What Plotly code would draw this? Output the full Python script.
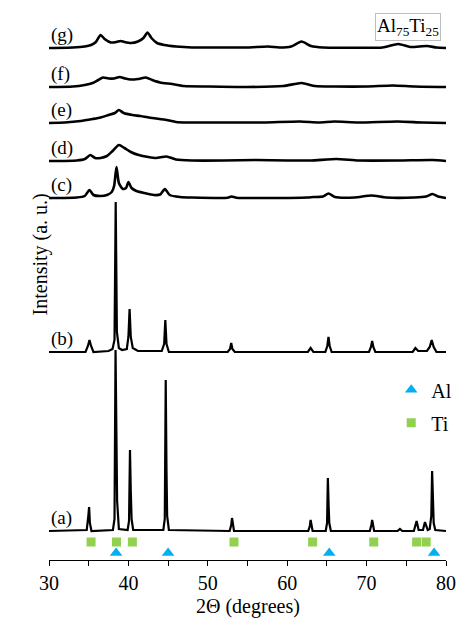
import plotly.graph_objects as go

# ---------------- data ----------------
two_theta_range = [30, 80]

# pattern (a)
a_x = [30, 34.75, 34.95, 35.05, 35.15, 35.35, 38.05, 38.25, 38.38, 38.48, 38.58, 38.8,
       39.9, 40.08, 40.2, 40.3, 40.4, 40.6, 44.4, 44.58, 44.7, 44.8, 44.88, 45.1,
       52.75, 52.95, 53.05, 53.3, 62.65, 62.85, 62.95, 63.2, 64.85, 65.02, 65.12, 65.22,
       65.3, 65.5, 70.4, 70.6, 70.7, 70.95, 73.9, 74.2, 74.5, 75.95, 76.2, 76.3, 76.55,
       77.1, 77.35, 77.45, 77.7, 77.95, 78.15, 78.25, 78.35, 78.45, 78.65, 80]
a_y = [0, 1, 15, 24, 8, 0, 1, 12, 181, 120, 30, 2,
       1, 10, 81, 40, 12, 1, 1, 12, 151, 60, 15, 1,
       0, 6, 13, 0, 0, 5, 11, 0, 0, 8, 53, 25,
       8, 0, 0, 6, 11, 0, 0, 2, 0, 0, 8, 10, 1,
       1, 9, 7, 1, 2, 15, 60, 30, 8, 1, 0]

# pattern (b)
b_x = [30, 34.6, 34.9, 35.1, 35.3, 35.6, 37.5, 38.0, 38.25, 38.4, 38.55, 38.8, 39.2,
       39.8, 40.0, 40.15, 40.3, 40.55, 41.2, 44.2, 44.5, 44.65, 44.8, 45.1, 52.5, 52.8,
       52.95, 53.1, 53.4, 62.6, 62.95, 63.3, 64.8, 65.05, 65.2, 65.35, 65.6, 70.3, 70.55,
       70.7, 70.85, 71.1, 75.8, 76.15, 76.5, 77.6, 77.95, 78.2, 78.45, 78.8, 80]
b_y = [0, 0, 6, 12, 6, 0, 1, 3, 12, 150, 20, 4, 2,
       3, 15, 43, 15, 4, 1, 1, 8, 32, 8, 0, 0, 3,
       9, 3, 0, 0, 4, 0, 0, 6, 15, 6, 0, 0, 5,
       11, 5, 0, 0, 4, 1, 1, 5, 12, 5, 0, 0]

# pattern (c)
c_x = [30, 33.5, 34.5, 35.1, 35.6, 36.5, 37.3, 37.9, 38.2, 38.5, 38.8, 39.3, 39.7, 40.0,
       40.4, 41.0, 42.0, 43.2, 44.0, 44.6, 45.2, 46.5, 48, 52.5, 53.0, 53.6, 58, 62.5,
       63.3, 64.5, 65.2, 66.0, 68.5, 70.6, 72.5, 76, 77.5, 78.3, 79.0, 80]
c_y = [0, 0.5, 2, 8, 3, 2, 3, 6, 12, 31, 15, 9, 10, 16,
       10, 7, 5, 3, 3.5, 9, 3, 1, 0.5, 0.3, 1.5, 0.3, 0, 0.5,
       1, 1.5, 4.5, 1, 0.5, 2.5, 0.5, 0.5, 1.5, 4, 1.5, 0]

# pattern (d)
d_x = [30, 33.5, 34.5, 35.2, 35.8, 36.5, 37.3, 38.0, 38.8, 39.5, 40.3, 41.3, 42.5,
       43.5, 44.8, 46.0, 48, 52, 56, 60, 63, 66.2, 69, 74, 78.3, 80]
d_y = [0, 0.5, 2, 6, 3, 3, 5, 10, 16, 13, 9, 6, 4,
       3, 4.5, 1.5, 0.5, 0.5, 1, 0.5, 0.5, 2, 0.5, 0.5, 1, 0]

# pattern (e)
e_x = [30, 32, 34, 35.5, 36.5, 37.5, 38.3, 38.8, 39.4, 40.5, 41.5, 43, 44.8, 46,
       47.5, 52, 57, 61.6, 64, 65.9, 69, 73.9, 77, 80]
e_y = [0, 0.5, 2, 4, 5.5, 8, 10, 13, 10, 8, 7, 5, 3, 1,
       0.5, 0.5, 0.5, 1.5, 0.5, 1.5, 0.5, 1.5, 0.5, 0]

# pattern (f)
f_x = [30, 33, 34.5, 35.5, 36.2, 36.8, 37.5, 38.2, 38.9, 39.6, 40.3, 41.2, 42.2, 43.0,
       44.0, 45.5, 47, 50, 55, 59.5, 61.8, 63.5, 66, 70, 73.3, 76, 80]
f_y = [0, 0.5, 2, 4, 7, 9.5, 8.5, 8.5, 10, 8.5, 7.5, 8, 9.5, 7,
       4.5, 3, 1, 0.5, 0, 1, 4, 1, 0.5, 0.5, 1.5, 0.5, 0]

# pattern (g)
g_x = [30, 33, 34.5, 35.3, 35.9, 36.5, 37.0, 37.8, 38.5, 39.0, 39.5, 40.3, 41.2, 41.9,
       42.4, 42.9, 43.6, 44.5, 46, 48, 52, 55, 57.6, 59, 60.5, 61.8, 63.0, 64.5, 68, 72,
       74.0, 75.5, 77.6, 78.8, 80]
g_y = [0, 0.5, 1.5, 3, 6, 13, 9, 5.5, 6, 7, 6, 5, 6.5, 10,
       15.5, 10, 5, 3, 1.5, 0.5, 0.5, 0.5, 1.5, 0.5, 1.5, 6.5, 2, 0.5, 0.3, 0.5,
       4, 1, 2, 0.5, 0]

pattern_labels = ["(a)", "(b)", "(c)", "(d)", "(e)", "(f)", "(g)"]
pattern_x = [a_x, b_x, c_x, d_x, e_x, f_x, g_x]
pattern_y = [a_y, b_y, c_y, d_y, e_y, f_y, g_y]
stack_offsets = [29, 208, 362, 399, 437, 473, 512]

# reference peak positions
al_peaks = [38.45, 45.0, 65.3, 78.5]
ti_peaks = [35.3, 38.5, 40.5, 53.3, 63.2, 70.9, 76.3, 77.5]
al_row = 7
ti_row = 18

x_ticks = [30, 40, 50, 60, 70, 80]

# ---------------- figure ----------------
SERIF = "Liberation Serif, Times New Roman, serif"
fig = go.Figure()

for lab, xs, ys, off in zip(pattern_labels, pattern_x, pattern_y, stack_offsets):
    assert len(xs) == len(ys), lab
    sharp = lab in ("(a)", "(b)")
    fig.add_trace(go.Scatter(
        x=xs, y=[v + off for v in ys], mode="lines",
        line=dict(color="black", width=2.2 if sharp else 2.6,
                  shape="linear" if sharp else "spline",
                  smoothing=0 if sharp else 0.6),
        showlegend=False, hoverinfo="skip"))
    fig.add_annotation(x=30, y=off + 13, xref="x", yref="y", text=lab,
                       showarrow=False, xanchor="left", yanchor="middle",
                       font=dict(family=SERIF, size=19, color="black"))

fig.add_trace(go.Scatter(
    x=al_peaks, y=[al_row] * len(al_peaks), mode="markers", name="Al",
    legendgroup="al",
    marker=dict(symbol="triangle-up", size=11, color="#00B0F0"),
    hoverinfo="skip"))
fig.add_trace(go.Scatter(
    x=ti_peaks, y=[ti_row] * len(ti_peaks), mode="markers", name="Ti",
    legendgroup="ti",
    marker=dict(symbol="square", size=9, color="#92D050"),
    hoverinfo="skip"))

fig.add_annotation(x=0.9876, y=0.9856, xref="paper", yref="paper",
                   xanchor="right", yanchor="top",
                   text="Al<sub>75</sub>Ti<sub>25</sub>", showarrow=False,
                   font=dict(family=SERIF, size=19, color="black"),
                   bordercolor="#bfbfbf", borderwidth=1, borderpad=1,
                   bgcolor="white")

fig.add_annotation(x=-0.055, y=0.55, xref="paper", yref="paper",
                   text="Intensity (a. u.)", textangle=-90, showarrow=False,
                   font=dict(family=SERIF, size=20, color="black"))

fig.add_annotation(x=0.5, y=-0.0835, xref="paper", yref="paper",
                   text="2\u0398 (degrees)", showarrow=False,
                   xanchor="center", yanchor="middle",
                   font=dict(family=SERIF, size=20, color="black"))

fig.update_layout(
    width=462, height=621,
    margin=dict(l=49, r=11, t=5, b=61),
    paper_bgcolor="white", plot_bgcolor="white",
    font=dict(family=SERIF, size=20, color="black"),
    legend=dict(x=0.862, y=0.342, xanchor="left", yanchor="top",
                bgcolor="rgba(0,0,0,0)", tracegroupgap=4,
                font=dict(family=SERIF, size=20, color="black")),
    xaxis=dict(range=two_theta_range, tickvals=x_ticks, ticks="outside",
               ticklen=5, tickcolor="black", showline=True, linecolor="black",
               linewidth=1, showgrid=False, zeroline=False,
               minor=dict(dtick=5, ticks="outside", ticklen=5, tickcolor="black"),
               tickfont=dict(family=SERIF, size=20)),
    yaxis=dict(range=[0, 555], showticklabels=False, showgrid=False,
               zeroline=False, showline=False, ticks=""),
)

fig.write_html("out.html", config={"displayModeBar": False},
               post_script="document.body.style.margin='0';")
